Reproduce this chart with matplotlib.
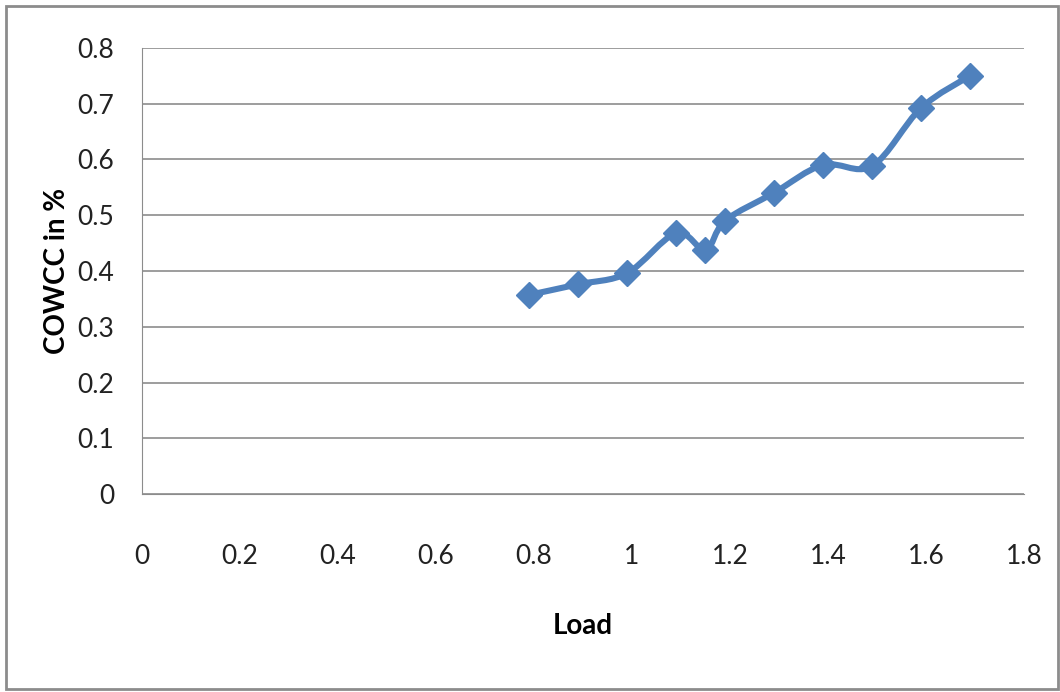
import matplotlib.pyplot as plt
from matplotlib.path import Path
from matplotlib.patches import PathPatch, Rectangle

load = [0.79, 0.89, 0.99, 1.09, 1.15, 1.19, 1.29, 1.39, 1.49, 1.59, 1.69]
cowcc = [0.357, 0.376, 0.396, 0.468, 0.438, 0.49, 0.54, 0.59, 0.588, 0.692, 0.75]
x_ticks = [0, 0.2, 0.4, 0.6, 0.8, 1, 1.2, 1.4, 1.6, 1.8]
y_ticks = [0, 0.1, 0.2, 0.3, 0.4, 0.5, 0.6, 0.7, 0.8]

blue = "#4F81BD"
plt.rcParams['font.family'] = ['Lato', 'DejaVu Sans']

fig = plt.figure(figsize=(10.6, 6.92), dpi=100)
ax = fig.add_axes([0.134, 0.286, 0.832, 0.645])

# smoothed line like excel (bezier through the points)
verts = [(load[0], cowcc[0])]
codes = [Path.MOVETO]
n = len(load)
for i in range(n - 1):
    x0, y0 = load[max(i - 1, 0)], cowcc[max(i - 1, 0)]
    x1, y1 = load[i], cowcc[i]
    x2, y2 = load[i + 1], cowcc[i + 1]
    x3, y3 = load[min(i + 2, n - 1)], cowcc[min(i + 2, n - 1)]
    c1 = (x1 + (x2 - x0) / 6, y1 + (y2 - y0) / 6)
    c2 = (x2 - (x3 - x1) / 6, y2 - (y3 - y1) / 6)
    verts += [c1, c2, (x2, y2)]
    codes += [Path.CURVE4] * 3
ax.add_patch(PathPatch(Path(verts, codes), facecolor='none', edgecolor=blue,
                       lw=4.4, capstyle='round', joinstyle='round', zorder=3))
ax.plot(load, cowcc, linestyle='none', marker='D', markersize=13,
        color=blue, zorder=4)

ax.set_xlim(0, 1.8)
ax.set_ylim(0, 0.8)
ax.set_xticks(x_ticks)
ax.set_xticklabels([f"{t:g}" for t in x_ticks])
ax.set_yticks(y_ticks)
ax.set_yticklabels([f"{t:g}" for t in y_ticks])
ax.tick_params(labelsize=19, length=0, pad=20, labelcolor='#222222')
ax.tick_params(axis='x', pad=36)
ax.grid(axis='y', color='#8c8c8c', lw=1.2)
ax.set_axisbelow(True)
for s in ['top', 'right']:
    ax.spines[s].set_visible(False)
ax.spines['left'].set_color('#8c8c8c')
ax.spines['bottom'].set_color('#8c8c8c')

ax.set_xlabel("Load", fontsize=20, fontweight='bold')
ax.set_ylabel("COWCC in %", fontsize=20, fontweight='bold')
ax.xaxis.set_label_coords(0.5, -0.267)
ax.yaxis.set_label_coords(-0.082, 0.5)

fig.patches.append(Rectangle((0.006, 0.004), 0.992, 0.988, transform=fig.transFigure,
                             fill=False, edgecolor='#8c8c8c', lw=2))

plt.savefig("out.png", dpi=100)
